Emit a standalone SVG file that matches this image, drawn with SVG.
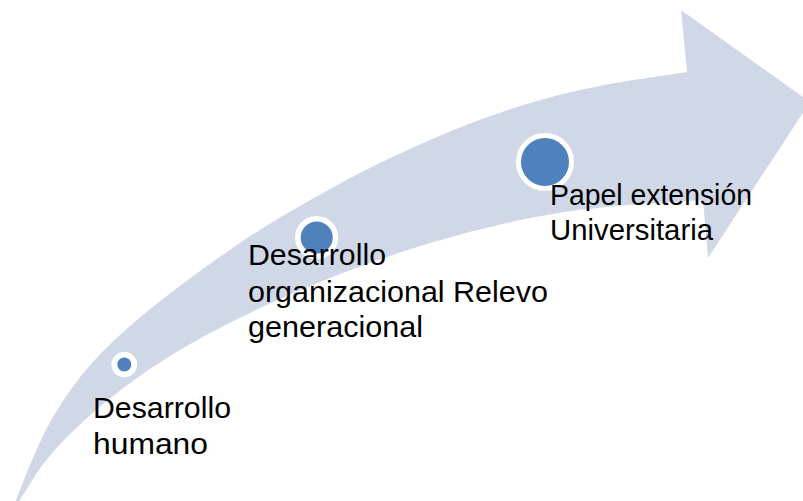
<svg xmlns="http://www.w3.org/2000/svg" width="803" height="501" viewBox="0 0 803 501">
<style>
.arrow{fill:#D0D8E8;}
.dot{fill:#4F81BD;stroke:#FFFFFF;}
.lbl{font-family:"Liberation Sans",Arial,sans-serif;font-size:30px;fill:#000000;}
</style>
<rect width="803" height="501" fill="#FFFFFF"/>
<g id="arrow">
<path class="arrow" d="M15,503 Q35,450 48.5,425 Q62,400 81,376 Q100,352 130,326 Q160,300 203.5,268.5 Q247,237 280,217.5 Q313,198 346.5,180 Q380,162 430,140 Q480,118 530,103 Q580,88 633.5,80 L687,72 L681,10 L810,102 L708,258 L703,200 L641.5,204 Q580,208 530,218 Q480,228 430,243 Q380,258 320,282 Q260,306 203.5,336.5 Q147,367 102,405 Q57,443 37.5,472 L18,503 Z"/>
</g>
<g id="connectors"></g>
<g id="node1">
<circle class="dot" cx="124.3" cy="364.5" r="9.9" stroke-width="5.8"/>
<text class="lbl" x="93" y="418" textLength="138" lengthAdjust="spacingAndGlyphs">Desarrollo</text>
<text class="lbl" x="93" y="454" textLength="115" lengthAdjust="spacingAndGlyphs">humano</text>
</g>
<g id="node2">
<circle class="dot" cx="316.7" cy="237.5" r="18.8" stroke-width="5.5"/>
<text class="lbl" x="248" y="265" textLength="138" lengthAdjust="spacingAndGlyphs">Desarrollo</text>
<text class="lbl" x="248" y="301.5" textLength="300" lengthAdjust="spacingAndGlyphs">organizacional Relevo</text>
<text class="lbl" x="248" y="337" textLength="175" lengthAdjust="spacingAndGlyphs">generacional</text>
</g>
<g id="node3">
<circle class="dot" cx="545" cy="162" r="26.5" stroke-width="5"/>
<text class="lbl" x="550" y="205" textLength="202" lengthAdjust="spacingAndGlyphs">Papel extensión</text>
<text class="lbl" x="550" y="240" textLength="163" lengthAdjust="spacingAndGlyphs">Universitaria</text>
</g>
</svg>
